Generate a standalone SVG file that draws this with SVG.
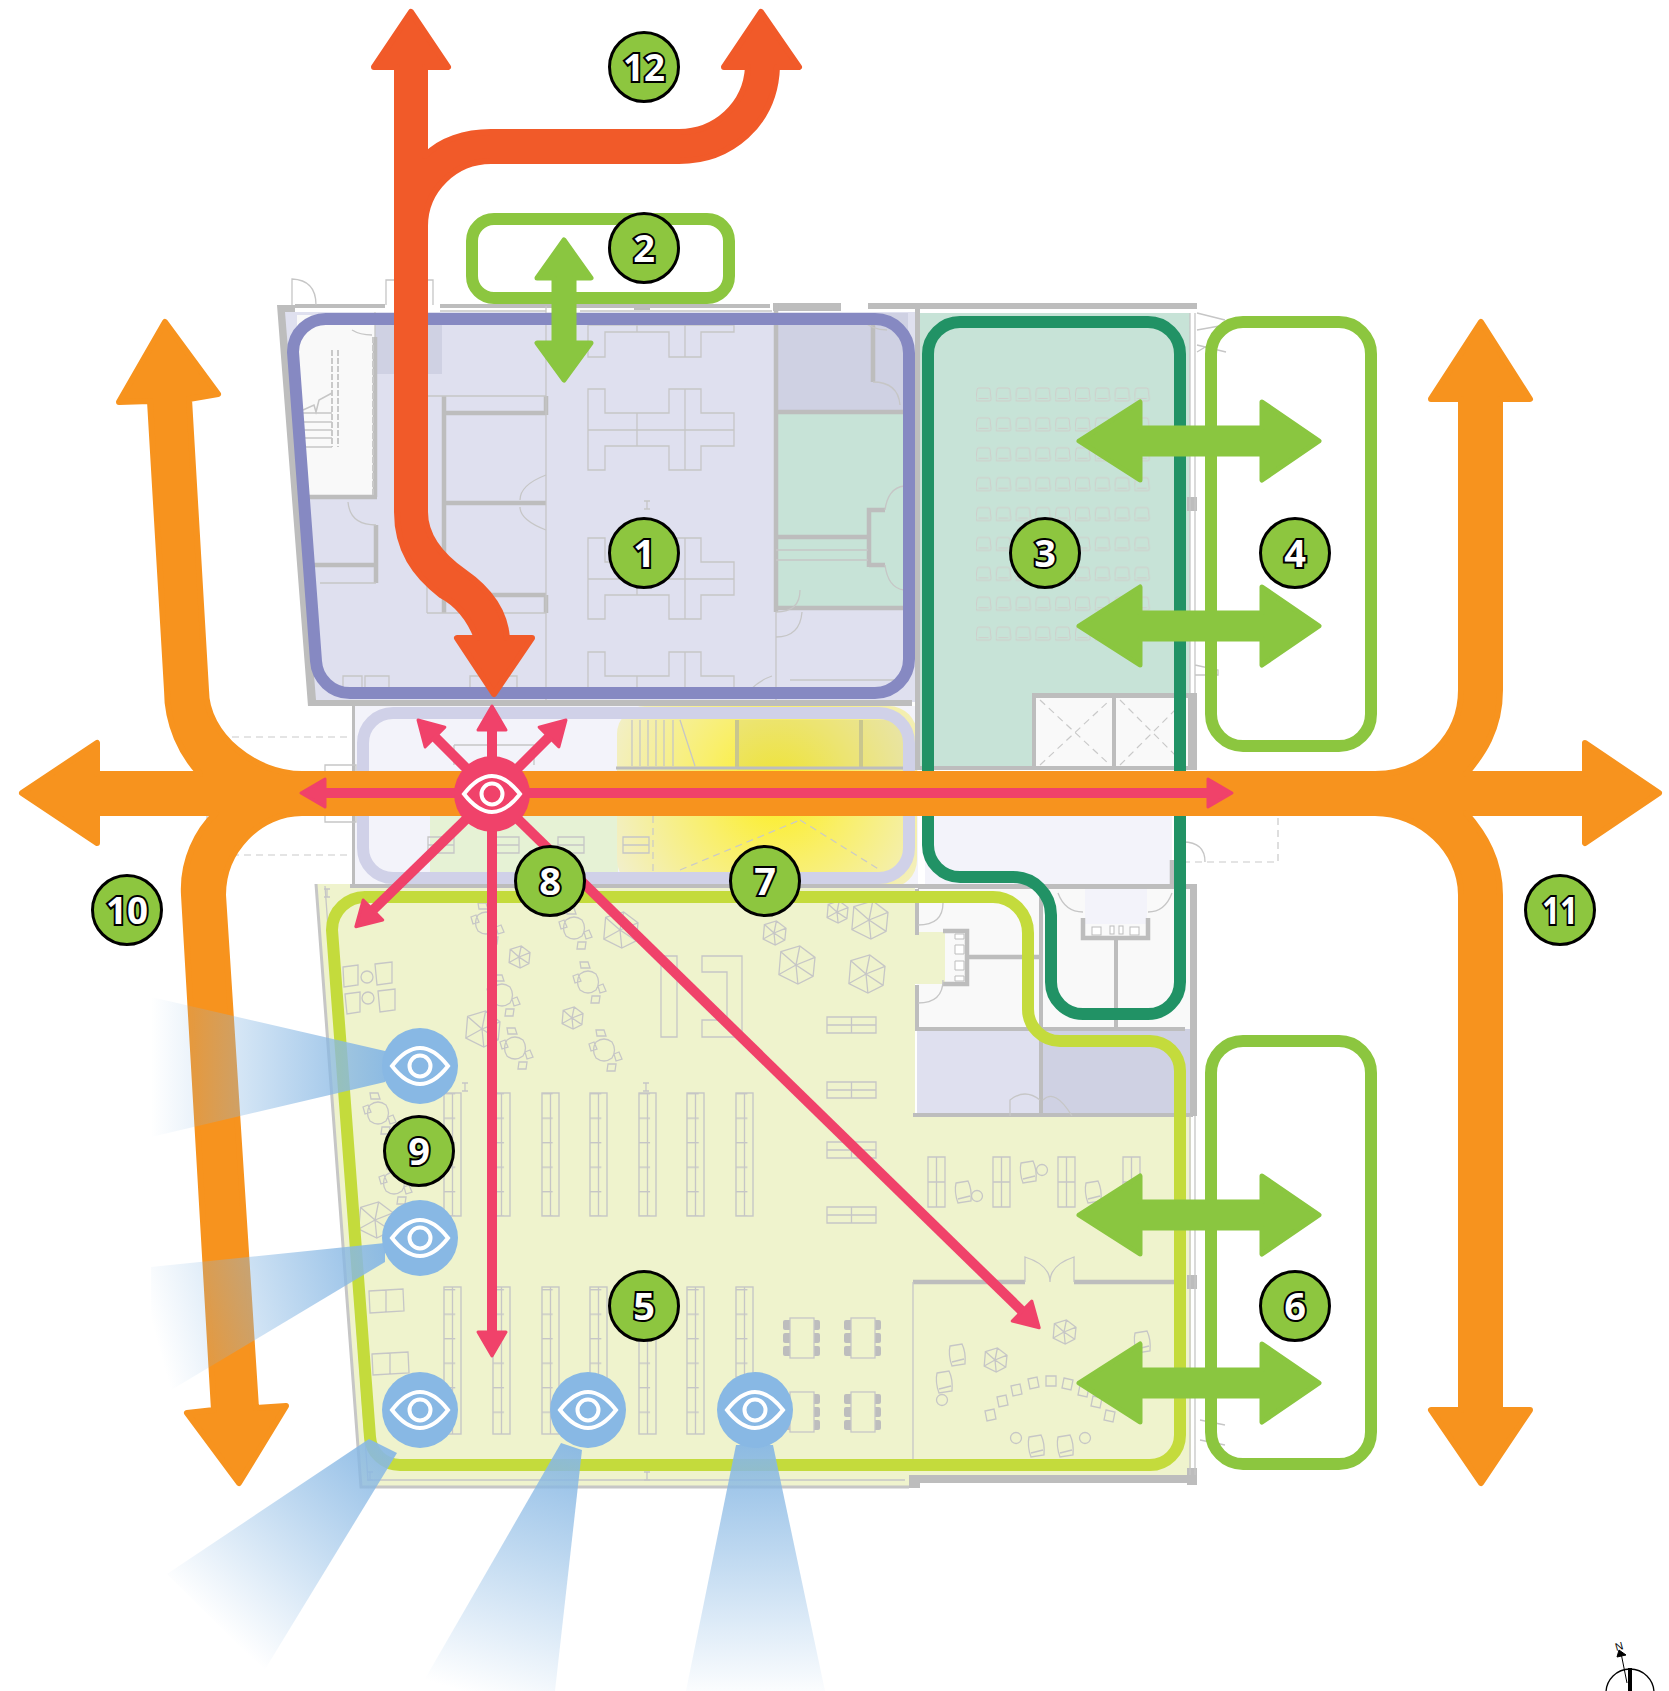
<svg xmlns="http://www.w3.org/2000/svg" width="1669" height="1691" viewBox="0 0 1669 1691">
<style>
.t{fill:none;stroke:#c6c6c6;stroke-width:1.3;vector-effect:non-scaling-stroke}
.d{fill:none;stroke:#c9c9c9;stroke-width:1.2;stroke-dasharray:7 5}
.w{fill:none;stroke:#bdbdbd;stroke-width:4.5}
.wf{fill:#bdbdbd}
.loop{fill:none;stroke-width:12}
.orange{fill:#f7931e;stroke:#f7931e;stroke-width:6;stroke-linejoin:round}
.red{fill:#f15a29;stroke:#f15a29;stroke-width:6;stroke-linejoin:round}
.grn{fill:#8ac640;stroke:#8ac640;stroke-width:5;stroke-linejoin:round}
.pk{fill:none;stroke:#f0426a;stroke-width:10}
.badge circle{fill:#8dc63f;stroke:#000;stroke-width:3}
.badge text{font-family:"Open Sans","DejaVu Sans",sans-serif;font-weight:700;font-size:38px;fill:#fff;stroke:#000;stroke-width:4px;paint-order:stroke;text-anchor:middle}
.ei{fill:none;stroke:#fff;stroke-width:4}
</style>
<defs>
<radialGradient id="yg" gradientUnits="userSpaceOnUse" cx="777" cy="790" r="175">
<stop offset="0" stop-color="#fcee21"/><stop offset=".42" stop-color="#f9ef6a"/><stop offset="1" stop-color="#f2efc8"/>
</radialGradient>
<linearGradient id="b1" gradientUnits="userSpaceOnUse" x1="385" y1="1066" x2="151" y2="1066"><stop offset="0" stop-color="#88b8e4" stop-opacity=".95"/><stop offset="1" stop-color="#88b8e4" stop-opacity="0"/></linearGradient>
<linearGradient id="b2" gradientUnits="userSpaceOnUse" x1="385" y1="1255" x2="151" y2="1320"><stop offset="0" stop-color="#88b8e4" stop-opacity=".95"/><stop offset="1" stop-color="#88b8e4" stop-opacity="0"/></linearGradient>
<linearGradient id="b3" gradientUnits="userSpaceOnUse" x1="385" y1="1440" x2="215" y2="1625"><stop offset="0" stop-color="#88b8e4" stop-opacity=".95"/><stop offset="1" stop-color="#88b8e4" stop-opacity="0"/></linearGradient>
<linearGradient id="b4" gradientUnits="userSpaceOnUse" x1="570" y1="1445" x2="490" y2="1700"><stop offset="0" stop-color="#88b8e4" stop-opacity=".95"/><stop offset="1" stop-color="#88b8e4" stop-opacity="0"/></linearGradient>
<linearGradient id="b5" gradientUnits="userSpaceOnUse" x1="755" y1="1445" x2="755" y2="1700"><stop offset="0" stop-color="#88b8e4" stop-opacity=".95"/><stop offset="1" stop-color="#88b8e4" stop-opacity="0"/></linearGradient>
<pattern id="seats" patternUnits="userSpaceOnUse" x="976" y="387" width="19.8" height="29.9">
<path d="M2.5,1 h10 q1.5,0 1.5,2 l1,9 q0,2 -1.5,2 h-12 q-1.5,0 -1.5,-2 l1,-9 q0,-2 1.5,-2z M2.5,11.5 h10" fill="none" stroke="#cfcdca" stroke-width="1"/>
</pattern>
<pattern id="shelf" patternUnits="userSpaceOnUse" x="0" y="1093" width="48.7" height="24.5">
<path d="M0,0.7 H17" stroke="#c6c6c6" stroke-width="1.4"/>
</pattern>
<g id="cross"><path class="t" d="M588,389H605V413H669V389H701V413H734V446H701V470H669V446H605V470H588Z M588,430H734 M637,413V446 M685,389V470"/></g>
<g id="umb"><path class="t" d="M-8,-7 L2,-10 L10,-4 L9,6 L1,10 L-9,5Z M0,0L-8,-7 M0,0L2,-10 M0,0L10,-4 M0,0L9,6 M0,0L1,10 M0,0L-9,5"/></g>
<g id="tbl"><path class="t" d="M-8,-8 Q0,-14 8,-8 Q13,0 8,8 Q0,14 -8,8 Q-13,0 -8,-8Z M-8,-20 h8 l2,6 h-9z M4,14 h8 l-1,7 h-8z M-15,-6 l5,-2 l3,7 l-6,2z M10,4 l5,-2 l3,7 l-6,2z"/></g>
<g id="sh"><rect class="t" width="17" height="50"/><path class="t" d="M8.5,0V50M0,25H17"/></g>
<g id="rt"><rect class="t" width="49" height="16"/><path class="t" d="M24.5,0V16M0,8H49"/></g>
<g id="study"><rect class="wf" x="-7" y="2" width="37" height="10" rx="2"/><rect class="wf" x="-7" y="15" width="37" height="10" rx="2"/><rect class="wf" x="-7" y="28" width="37" height="10" rx="2"/><rect width="24" height="40" fill="#eff3cd" stroke="#c6c6c6" stroke-width="1.3"/></g>
<g id="chair"><path class="t" d="M-7,-9 L5,-11 Q9,-3 8,9 L-5,11 Q-9,0 -7,-9Z M-5,7 L7,4"/></g>
<g id="imark"><path class="t" d="M-3,-4H3M-3,4H3M0,-4V4"/></g>
<g id="eyeicon"><path class="ei" d="M-28,0 Q0,-36 28,0 Q0,36 -28,0Z"/><circle class="ei" r="10.5"/></g>
<marker id="ph" markerUnits="userSpaceOnUse" markerWidth="30" markerHeight="36" viewBox="0 0 30 36" refX="3" refY="18" orient="auto-start-reverse"><path d="M3,4 L27,18 L3,32Z" fill="#f0426a" stroke="#f0426a" stroke-width="3" stroke-linejoin="round"/></marker>
</defs>

<rect width="1669" height="1691" fill="#fff"/>

<g id="floorplan">
<polygon points="283,312 918,312 918,702 312,702" fill="#dfe0ef"/>
<rect x="297" y="315" width="78" height="180" fill="#f9f9f9"/>
<rect x="375" y="315" width="67" height="59" fill="#cfd1e3"/>
<rect x="778" y="313" width="130" height="97" fill="#cfd1e3"/>
<rect x="778" y="414" width="140" height="194" fill="#c7e3d7"/>
<rect x="352" y="706" width="566" height="178" fill="#f3f3fa"/>
<rect x="430" y="815" width="188" height="60" fill="#e6f2d5"/>
<rect x="617" y="706" width="300" height="182" rx="28" fill="url(#yg)"/>
<rect x="737" y="720" width="170" height="50" fill="#9a9a9a" opacity=".13"/>
<path d="M920,313 H1190 V770 H920Z" fill="#c7e3d7"/>
<rect x="1032" y="695" width="165" height="75" fill="#f9f9f9"/>
<rect x="976" y="387" width="178" height="269" fill="url(#seats)"/>
<path d="M925,816 H1172 V884 H925Z" fill="#f3f3fa"/>
<rect x="917" y="886" width="275" height="143" fill="#f9f9f9"/>
<rect x="1085" y="884" width="62" height="40" fill="#f3f3fa"/>
<rect x="917" y="1029" width="124" height="87" fill="#dfe0ef"/>
<rect x="1041" y="1029" width="150" height="87" fill="#cfd1e3"/>
<path d="M316,884 H915 V1116 H1191 V1475 H912 V1487 H361Z" fill="#eff3cd"/>
<rect x="915" y="932" width="30" height="52" fill="#eff3cd"/>

<g class="wf">
<path d="M277,305 H295 V312 H285 L316,700 H352 V706 H308Z"/>
<rect x="295" y="304" width="90" height="4"/><rect x="440" y="304" width="330" height="4"/>
<rect x="773" y="303" width="68" height="8"/><rect x="868" y="303" width="329" height="6"/>
<rect x="312" y="700" width="600" height="6"/>
<rect x="352" y="706" width="3" height="178"/>
<rect x="350" y="884" width="570" height="4"/>
<rect x="915" y="303" width="5" height="467"/>
<rect x="920" y="766" width="277" height="4"/>
<rect x="1188" y="693" width="9" height="77"/>
<rect x="1032" y="693" width="165" height="5"/>
<rect x="1032" y="693" width="4" height="75"/>
<rect x="1112" y="693" width="4" height="75"/>
<rect x="918" y="884" width="279" height="5"/>
<rect x="1190" y="884" width="7" height="232"/>
<rect x="915" y="889" width="4" height="46"/><rect x="915" y="985" width="4" height="44"/>
<rect x="915" y="1027" width="270" height="4"/>
<rect x="1039" y="889" width="4" height="227"/>
<rect x="913" y="1113" width="280" height="4"/>
<rect x="909" y="1475" width="288" height="8"/><rect x="909" y="1475" width="11" height="13"/>
<rect x="1187" y="1468" width="10" height="17"/>
<rect x="1187" y="497" width="10" height="14"/><rect x="1187" y="1275" width="10" height="14"/>
<rect x="634" y="304" width="16" height="6"/>
<rect x="1114" y="938" width="4" height="89"/>
</g>
<path class="w" d="M444,396V613 M444,413H546 M546,396V415 M444,503H546 M490,595H546 M546,595V613 M375,337V497 M297,497H377 M376,525V583 M314,565H376 M776,303V612 M776,412H904 M776,537H868 M776,608H904 M869,567V510H885 M869,565H885 M873,313V382"/>
<path class="t" d="M427,396H546 M546,415V475 M427,396V613 M427,613H546 M546,530V595 M320,583H376 M776,550H868 M776,560H868 M776,612V700 M546,306V700 M375,337 V312 M790,680H904"/>
<path class="t" d="M546,475 Q520,485 520,500 M546,530 Q520,520 520,507 M348,502 Q350,525 376,525 M776,612 Q800,612 800,590 M776,637 Q800,637 802,612 M885,510 Q888,488 904,486 M885,565 Q888,588 904,590 M873,382 Q898,382 900,405 M887,330 Q872,330 862,320 M750,690 Q760,680 772,676 M352,330 Q360,335 372,335"/>
<path class="t" d="M292,305V279 Q316,280 316,305 M386,305V280H398 M423,280H433V305"/>
<path d="M332,350V447 M338,350V447 M373,337V495" fill="none" stroke="#c9c9c9" stroke-width="2" stroke-dasharray="6 2"/>
<path d="M303,413H332 M303,422H332 M303,430H332 M303,438H332 M303,447H332 M303,410 L314,405 L316,412 L319,400 L332,393" fill="none" stroke="#c6c6c6" stroke-width="1.5"/>
<path class="t" d="M440,311H546 M580,311H772"/>
<use href="#cross"/>
<use href="#cross" transform="translate(0,149)"/>
<path class="t" d="M588,325H734 M588,325V357H605V332H669V357H701V332H734V325 M637,325V332 M685,325V357"/>
<path class="t" d="M588,693V652H605V676H669V652H701V676H734V693 M637,676V693 M685,652V693"/>
<path class="t" d="M343,693V676H362 V693 M365,693V676H389V693 M470,693V676H480 M508,676H517V693"/>
<path class="t" d="M632,720V766 M640,720V766 M648,720V766 M656,720V766 M664,720V766 M673,720V766 M680,720 L695,766 M454,745H534V765 M454,745V765"/>
<path d="M737,720V768 M861,720V768" stroke="#c9c68e" stroke-width="4" fill="none"/>
<path d="M616,768H905" stroke="#bdbdbd" stroke-width="3"/>
<g><rect class="t" x="428" y="837" width="26" height="16"/><rect class="t" x="493" y="837" width="26" height="16"/><rect class="t" x="558" y="837" width="26" height="16"/><rect class="t" x="623" y="837" width="26" height="16"/><path class="t" d="M428,845H454M493,845H519M558,845H584M623,845H649"/></g>
<path class="d" d="M653,816V884 M680,870 L800,820 M800,820 L880,870"/>
<path class="d" d="M232,737H352 M232,855H352 M207,816V855 M207,855H232 M1183,862H1278V815"/>
<rect class="t" x="325" y="765" width="31" height="57"/>
<path class="d" d="M1040,700L1110,765 M1040,765L1110,700 M1120,700L1185,765 M1120,765L1185,700"/>
<path class="t" d="M1190,313V693 M1195,313V693 M1197,313 L1225,320 M1197,330 L1225,325 M1197,345 L1226,352 M1197,352 L1225,335 M1195,665 L1218,670 L1218,675 H1195"/>
<path class="t" d="M1183,842 Q1205,842 1205,862 M1172,862V884"/>
<path class="w" d="M943,931H967V984H943 M967,957H1039 M1083,918V938H1148V918 M1172,860V884"/>
<path class="t" d="M918,925 Q943,925 943,903 M918,1003 Q943,1003 943,980 M1058,893 Q1065,912 1083,912 M1148,912 Q1165,912 1172,893"/>
<path d="M955,934h9v5h-9z M955,945h9v9h-9z M955,961h9v9h-9z M955,976h9v5h-9z" fill="#fff" stroke="#bdbdbd"/>
<rect x="1092" y="927" width="9" height="8" fill="#fff" stroke="#bdbdbd"/><rect x="1110" y="926" width="4" height="8" fill="#fff" stroke="#bdbdbd"/><rect x="1119" y="926" width="4" height="8" fill="#fff" stroke="#bdbdbd"/><rect x="1130" y="927" width="9" height="8" fill="#fff" stroke="#bdbdbd"/>
<path class="t" d="M1010,1116V1100 Q1025,1088 1040,1100 M1043,1100 Q1055,1088 1072,1116"/>
<path d="M316,884 L361,1487 H909" fill="none" stroke="#c6c6c6" stroke-width="3"/>
<path class="t" d="M325,886 L368,1480 H905"/>
<path class="t" d="M1190,1116V1475 M1195,1116V1475 M1200,1420 L1225,1425 M1200,1440 L1225,1445"/>
<path class="w" d="M913,1282H1025 M1074,1282H1186" stroke-width="3"/>
<path class="t" d="M913,1282V1460 M1025,1282V1257 Q1050,1265 1050,1282 Q1050,1265 1074,1257 V1282"/>
<g>
<use href="#umb" transform="translate(519,957) scale(1.1)"/><use href="#umb" transform="translate(620,930) scale(1.8)"/>
<use href="#umb" transform="translate(837,912) scale(1.1)"/><use href="#umb" transform="translate(869,920) scale(1.9)"/>
<use href="#umb" transform="translate(774,933) scale(1.2)"/><use href="#umb" transform="translate(796,965) scale(1.9)"/>
<use href="#umb" transform="translate(866,974) scale(1.9)"/><use href="#umb" transform="translate(572,1018) scale(1.1)"/>
<use href="#umb" transform="translate(482,1029) scale(1.8)"/><use href="#umb" transform="translate(375,1220) scale(1.8)"/>
<use href="#umb" transform="translate(995,1360) scale(1.2)"/><use href="#umb" transform="translate(1064,1332) scale(1.2)"/>
<use href="#tbl" transform="translate(486,923)"/><use href="#tbl" transform="translate(574,928)"/>
<use href="#tbl" transform="translate(502,995)"/><use href="#tbl" transform="translate(588,982)"/>
<use href="#tbl" transform="translate(515,1048)"/><use href="#tbl" transform="translate(604,1050)"/>
<use href="#tbl" transform="translate(378,1113)"/><use href="#tbl" transform="translate(394,1183)"/>
</g>
<path class="t" d="M343,967L358,965V985L344,987Z M375,964L392,962V983L377,985Z M345,994L360,992V1012L347,1014Z M378,991L395,989V1010L380,1012Z"/>
<ellipse class="t" cx="367" cy="977" rx="6" ry="6"/><ellipse class="t" cx="368" cy="998" rx="6" ry="6"/>
<path class="t" d="M661,956H677V1037H661Z M702,956H742V1037H702V1020H727V972H702Z"/>
<use href="#rt" x="827" y="1017"/><use href="#rt" x="827" y="1082"/><use href="#rt" x="827" y="1142"/><use href="#rt" x="827" y="1207"/>
<g id="shelves">
<g fill="url(#shelf)" stroke="#c6c6c6" stroke-width="1.4">
<rect x="444" y="1093" width="17" height="123"/><rect x="493" y="1093" width="17" height="123"/><rect x="542" y="1093" width="17" height="123"/><rect x="590" y="1093" width="17" height="123"/><rect x="639" y="1093" width="17" height="123"/><rect x="687" y="1093" width="17" height="123"/><rect x="736" y="1093" width="17" height="123"/>
<rect x="444" y="1287" width="17" height="147"/><rect x="493" y="1287" width="17" height="147"/><rect x="542" y="1287" width="17" height="147"/><rect x="590" y="1287" width="17" height="147"/><rect x="639" y="1287" width="17" height="147"/><rect x="687" y="1287" width="17" height="147"/><rect x="736" y="1287" width="17" height="90"/>
</g>
<path class="t" d="M452.5,1093V1216M501.5,1093V1216M550.5,1093V1216M598.5,1093V1216M647.5,1093V1216M695.5,1093V1216M744.5,1093V1216M452.5,1287V1434M501.5,1287V1434M550.5,1287V1434M598.5,1287V1434M647.5,1287V1434M695.5,1287V1434M744.5,1287V1377"/>
</g>
<use href="#study" x="790" y="1318"/><use href="#study" x="851" y="1318"/><use href="#study" x="790" y="1392"/><use href="#study" x="851" y="1392"/>
<use href="#sh" x="928" y="1157"/><use href="#sh" x="993" y="1157"/><use href="#sh" x="1058" y="1157"/><use href="#sh" x="1123" y="1157"/>
<path class="t" d="M369,1291L403,1289L404,1311L370,1313Z M386,1290V1312 M372,1354L408,1352L409,1373L373,1375Z M390,1353V1374"/>
<use href="#chair" transform="translate(963,1192)"/><circle class="t" cx="977" cy="1196" r="5.5"/>
<use href="#chair" transform="translate(1028,1172)"/><circle class="t" cx="1042" cy="1170" r="5.5"/>
<use href="#chair" transform="translate(1093,1192)"/>
<use href="#chair" transform="translate(944,1382)"/><use href="#chair" transform="translate(957,1355)"/>
<use href="#chair" transform="translate(1036,1446)"/><use href="#chair" transform="translate(1065,1446)"/><use href="#chair" transform="translate(1142,1342)"/>
<circle class="t" cx="942" cy="1400" r="5.5"/><circle class="t" cx="1016" cy="1438" r="5.5"/><circle class="t" cx="1085" cy="1438" r="5.5"/>
<path class="t" d="M985,1411l9,-2l2,10l-9,2z M997,1397l9,-2l2,10l-9,2z M1011,1386l9,-2l2,10l-9,2z M1028,1379l9,-2l2,10l-9,2z M1046,1376h10v10h-10z M1064,1378l9,2l-2,10l-9,-2z M1080,1385l9,2l-2,10l-9,-2z M1093,1396l9,2l-2,10l-9,-2z M1106,1410l9,2l-2,10l-9,-2z"/>
<use href="#imark" x="647" y="505"/><use href="#imark" x="327" y="893"/><use href="#imark" x="465" y="1087"/><use href="#imark" x="646" y="1087"/><use href="#imark" x="370" y="1476"/><use href="#imark" x="647" y="1476"/>
</g>

<g id="connectors">
<path class="loop" stroke="#d0d1e8" d="M393,713H879A30,30 0 0 1 909,743V848A30,30 0 0 1 879,878H393A30,30 0 0 1 363,848V743A30,30 0 0 1 393,713Z"/>
<path class="loop" stroke="#c4db3c" d="M367,897H993A35,36 0 0 1 1028,933V1009A32,32 0 0 0 1060,1041H1150A30,30 0 0 1 1180,1071V1435A30,30 0 0 1 1150,1465H400A30,30 0 0 1 370,1437L332,930A33,33 0 0 1 367,897Z"/>
<path class="loop" stroke="#8689c2" d="M328,319H875A34,34 0 0 1 909,353V659A34,34 0 0 1 875,693H350A34,34 0 0 1 316,661L293,352A33,33 0 0 1 328,319Z"/>
<path class="loop" stroke="#219265" d="M960,322H1148A32,32 0 0 1 1180,354V982A32,32 0 0 1 1148,1014H1083A32,32 0 0 1 1051,982V915A38,38 0 0 0 1013,877H960A32,32 0 0 1 928,845V354A32,32 0 0 1 960,322Z"/>
<g class="loop" stroke="#8cc63f" fill="none">
<rect id="zone2" x="472" y="219" width="257" height="79" rx="22"/>
<rect id="zone4" x="1211" y="322" width="160" height="424" rx="32"/>
<rect id="zone6" x="1211" y="1041" width="160" height="423" rx="32"/>
</g>
<path id="orange-flow" class="orange" d="M22,793L97,743V774H200C182,755 167,725 167,690L150,401L119,402L165,322L218,394L189,399L206,690C206,735 255,774 302,774H1375C1425,774 1461,735 1461,690V399H1431L1481,322L1530,399H1500V690C1500,730 1482,755 1466,774H1585V743L1659,793L1585,843V813H1466C1485,835 1500,860 1500,895V1410H1530L1481,1483L1431,1410H1461V895C1461,850 1420,813 1375,813H302C260,813 223,850 223,895L256,1408L286,1406L239,1483L187,1413L214,1410L184,895C182,860 198,830 216,813H97V843Z"/>
<path id="red-flow" class="red" d="M411,12L448,67H425V156C440,140 465,132 491,132H679C715,132 746,105 748,67H724L761,12L799,67H777C775,125 730,161 679,161H491C455,161 425,190 425,226V512C425,535 440,555 464,572C490,590 505,612 507,638H532L494,694L457,638H477C470,620 460,605 441,595C415,575 397,550 397,512V67H374Z"/>
<path class="grn" d="M564,240L591,278H574V343H591L564,380L537,343H554V278H537Z"/>
<g id="green-arrows">
<path class="grn" d="M1079,441L1140,402V428H1262V402L1319,441L1262,480V454H1140V480Z"/>
<path class="grn" transform="translate(0,185)" d="M1079,441L1140,402V428H1262V402L1319,441L1262,480V454H1140V480Z"/>
<path class="grn" transform="translate(0,774)" d="M1079,441L1140,402V428H1262V402L1319,441L1262,480V454H1140V480Z"/>
<path class="grn" transform="translate(0,942)" d="M1079,441L1140,402V428H1262V402L1319,441L1262,480V454H1140V480Z"/>
</g>
<g id="sight-beams">
<path fill="url(#b1)" d="M385,1051V1082L151,1137V997Z"/>
<path fill="url(#b2)" d="M385,1243V1262L151,1402V1267Z"/>
<path fill="url(#b3)" d="M369,1439L397,1453L264,1671L167,1574Z"/>
<path fill="url(#b4)" d="M561,1443L582,1450L555,1691H418Z"/>
<path fill="url(#b5)" d="M736,1445H773L825,1691H686Z"/>
</g>
<g id="pink-arrows">
<path d="M325,793H1208" marker-start="url(#ph)" marker-end="url(#ph)" class="pk"/>
<path d="M492,794V730" class="pk" marker-end="url(#ph)"/>
<path d="M492,794L435,737" class="pk" marker-end="url(#ph)"/>
<path d="M492,794L549,737" class="pk" marker-end="url(#ph)"/>
<path d="M492,794L373,910" class="pk" marker-end="url(#ph)"/>
<path d="M492,794V1332" class="pk" marker-end="url(#ph)"/>
<path d="M492,794L1022,1311" class="pk" marker-end="url(#ph)"/>
</g>
</g>

<g id="eye-main" transform="translate(492,794)"><circle r="38" fill="#f0426a"/><use href="#eyeicon"/></g>
<g id="eye-1" transform="translate(420,1066)"><circle r="38" fill="#88b8e4"/><use href="#eyeicon"/></g>
<g id="eye-2" transform="translate(420,1238)"><circle r="38" fill="#88b8e4"/><use href="#eyeicon"/></g>
<g id="eye-3" transform="translate(420,1410)"><circle r="38" fill="#88b8e4"/><use href="#eyeicon"/></g>
<g id="eye-4" transform="translate(588,1410)"><circle r="38" fill="#88b8e4"/><use href="#eyeicon"/></g>
<g id="eye-5" transform="translate(755,1410)"><circle r="38" fill="#88b8e4"/><use href="#eyeicon"/></g>

<g id="badge-1" class="badge" transform="translate(644,553)"><circle r="34.5"/><text y="14">1</text></g>
<g id="badge-2" class="badge" transform="translate(644,248)"><circle r="34.5"/><text y="14">2</text></g>
<g id="badge-3" class="badge" transform="translate(1045,553)"><circle r="34.5"/><text y="14">3</text></g>
<g id="badge-4" class="badge" transform="translate(1295,553)"><circle r="34.5"/><text y="14">4</text></g>
<g id="badge-5" class="badge" transform="translate(644,1306)"><circle r="34.5"/><text y="14">5</text></g>
<g id="badge-6" class="badge" transform="translate(1295,1306)"><circle r="34.5"/><text y="14">6</text></g>
<g id="badge-7" class="badge" transform="translate(765,881)"><circle r="34.5"/><text y="14">7</text></g>
<g id="badge-8" class="badge" transform="translate(550,881)"><circle r="34.5"/><text y="14">8</text></g>
<g id="badge-9" class="badge" transform="translate(419,1151)"><circle r="34.5"/><text y="14">9</text></g>
<g id="badge-10" class="badge" transform="translate(127,910)"><circle r="34.5"/><text y="14" textLength="42" lengthAdjust="spacingAndGlyphs">10</text></g>
<g id="badge-11" class="badge" transform="translate(1560,910)"><circle r="34.5"/><text y="14" textLength="36" lengthAdjust="spacingAndGlyphs">11</text></g>
<g id="badge-12" class="badge" transform="translate(644,67)"><circle r="34.5"/><text y="14" textLength="42" lengthAdjust="spacingAndGlyphs">12</text></g>

<g id="north">
<circle cx="1630" cy="1693" r="24" fill="none" stroke="#000" stroke-width="1.3"/>
<rect x="1628" y="1668" width="4" height="23" fill="#000"/>
<path d="M1627,1683L1621,1653" stroke="#000" stroke-width="1"/>
<path d="M1619,1650L1626,1655L1617,1657Z" fill="#000" stroke="#000" stroke-width="1"/>
<text x="1619" y="1650" font-family="Liberation Sans,sans-serif" font-size="11" text-anchor="middle" transform="rotate(-15 1619 1646)">N</text>
</g>
</svg>
